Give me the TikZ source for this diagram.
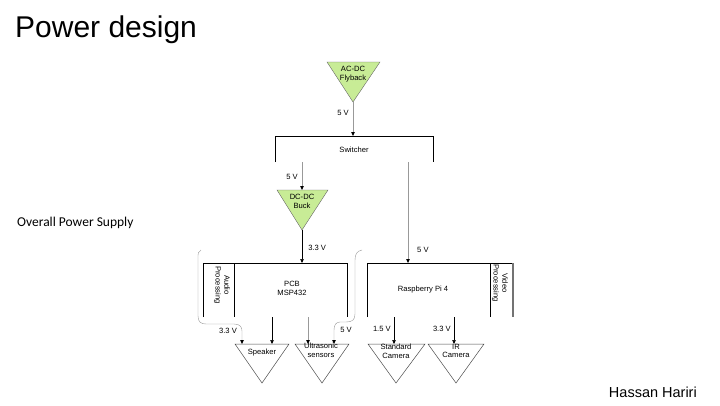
\documentclass[tikz,border=0pt]{standalone}
\usepackage{fontspec}
\setmainfont{Liberation Sans}
\newfontfamily\notefont{Carlito}
\usetikzlibrary{arrows.meta,positioning}
\definecolor{buckgreen}{RGB}{200,236,150}
\begin{document}
\begin{tikzpicture}[x=1pt, y=-1pt, >={Triangle[length=4pt,width=3.5pt]}, font=\fontsize{7.6}{8.8}\selectfont,
	green tri/.style={fill=buckgreen, draw=black!60, line width=0.4pt},
	load tri/.style={fill=white, draw=black!70, line width=0.5pt},
	txt/.style={inner sep=0pt, align=center},
	faint/.style={draw=black!40, line width=0.4pt},
	rail/.style={draw=black, line width=0.5pt}]
	\useasboundingbox (0,0) rectangle (720,405);
	\node[anchor=base west, inner sep=0pt, font=\fontsize{30}{36}\selectfont] (title) at (15,37) {Power design};
	\node[anchor=base west, inner sep=0pt, font=\notefont\fontsize{13.5}{15}\selectfont] (note) at (17,226) {Overall Power Supply};
	\node[anchor=base east, inner sep=0pt, font=\fontsize{14.5}{16}\selectfont] (author) at (697,397) {Hassan Hariri};

	\draw[green tri] (327,62) -- (380,62) -- (353,102) -- cycle;
	\node[txt] (flyback) at (353,74) {AC-DC\\Flyback};
	\coordinate (flybackTip) at (353,102);

	\draw[rail] (275,162) -- (275,136) -- (433,136) -- (433,162);
	\node[txt] (switcher) at (354,150) {Switcher};
	\coordinate (switcherTop) at (353,136);
	\coordinate (switcherBuck) at (302,162);
	\coordinate (switcherPi) at (408,162);
	\draw[faint, ->, >={Triangle[length=4pt,width=3.5pt,black]}] (flybackTip) -- (switcherTop) node[txt, pos=0.33, left=4pt] {5 V};

	\draw[green tri] (277,190) -- (328,190) -- (302,230) -- cycle;
	\node[txt] (buck) at (302,201) {DC-DC\\Buck};
	\coordinate (buckTop) at (302,190);
	\coordinate (buckTip) at (302,230);
	\draw[faint, ->, >={Triangle[length=4pt,width=3.5pt,black]}] (switcherBuck) -- (buckTop) node[txt, pos=0.55, left=4pt] {5 V};

	\draw[rail] (203,317) -- (203,263) -- (347,263) -- (347,317);
	\draw[rail] (234,263) -- (234,317);
	\node[txt] (pcb) at (292,288) {PCB\\MSP432};
	\node[txt, rotate=-90] (audio) at (222,285) {Audio\\Processing};
	\coordinate (pcbTop) at (302,263);
	\draw[rail, ->] (buckTip) -- (pcbTop) node[txt, pos=0.55, right=6pt] {3.3 V};

	\draw[rail] (367,317) -- (367,263) -- (513,263);
	\draw[black!55, line width=1.2pt] (513,263) -- (513,317);
	\draw[rail] (490,263) -- (490,317);
	\node[txt] (pi) at (423,290) {Raspberry Pi 4};
	\node[txt, rotate=-90] (video) at (500,283) {Video\\Processing};
	\coordinate (piTop) at (408,263);
	\draw[faint, ->, >={Triangle[length=4pt,width=3.5pt,black]}] (switcherPi) -- (piTop) node[txt, pos=0.87, right=9pt] {5 V};

	\draw[load tri] (235,344) -- (289,344) -- (262,383) -- cycle;
	\node[txt] (speaker) at (262,353) {Speaker};
	\draw[load tri] (295,344) -- (349,344) -- (322,383) -- cycle;
	\node[txt] (ultra) at (321,350) {Ultrasonic\\sensors};
	\draw[load tri] (368,344) -- (425,344) -- (396,383) -- cycle;
	\node[txt] (stdcam) at (396,351) {Standard\\Camera};
	\draw[load tri] (428,344) -- (484,344) -- (456,383) -- cycle;
	\node[txt] (ircam) at (456,351) {IR\\Camera};

	\coordinate (pcbSpk) at (272,317);
	\coordinate (pcbUltra) at (308,317);
	\coordinate (piStd) at (394,317);
	\coordinate (piIr) at (454,317);
	\draw[rail, ->] (pcbSpk) -- (272,344);
	\draw[faint, ->, >={Triangle[length=4pt,width=3.5pt,black]}] (pcbUltra) -- (308,344);
	\draw[rail, ->] (piStd) -- (394,344) node[txt, pos=0.45, left=3pt] {1.5 V};
	\draw[rail, ->] (piIr) -- (454,344) node[txt, pos=0.45, left=3pt] {3.3 V};

	\coordinate (audioTap) at (201,250);
	\coordinate (sensorTap) at (362,250);
	\draw[faint, ->, >={Triangle[length=4pt,width=3.5pt,black]}] (audioTap) .. controls (198,251) and (198,254) .. (198,258) -- (198,316)
		.. controls (198,322) and (201,324) .. (206,324) -- (234,324)
		.. controls (240,324) and (242,327) .. (242,331) -- (242,344);
	\node[txt] (audioV) at (228,331) {3.3 V};
	\draw[faint, ->, >={Triangle[length=4pt,width=3.5pt,black]}] (sensorTap) .. controls (357,251) and (355,254) .. (355,260) -- (355,314)
		.. controls (355,320) and (352,322) .. (346,322) -- (340,322)
		.. controls (336,322) and (334,325) .. (334,330) -- (334,344);
	\node[txt] (sensorV) at (346,330) {5 V};
\end{tikzpicture}
\end{document}
